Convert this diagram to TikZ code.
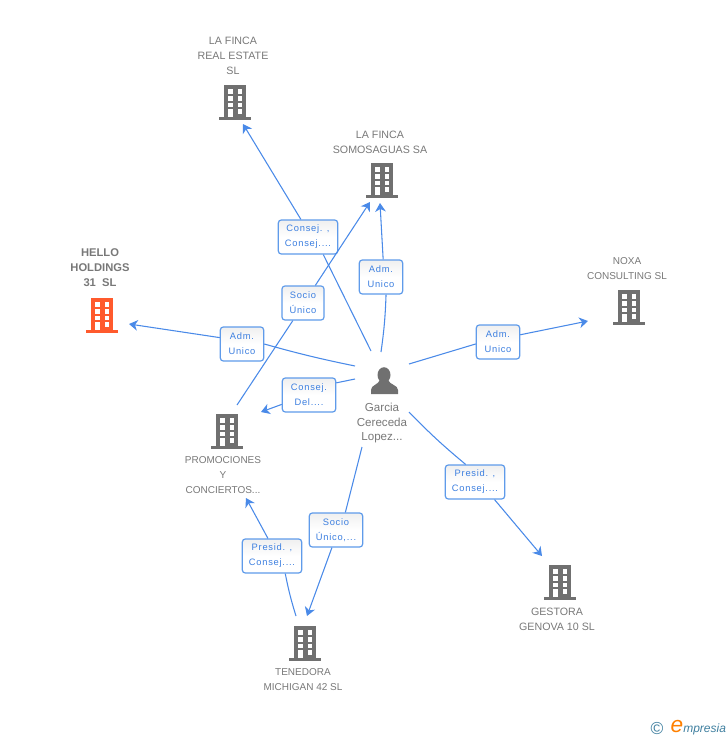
\documentclass[tikz,border=0pt]{standalone}
\usepackage{fontspec}
\setmainfont{Liberation Sans}
\newfontfamily\boxfont[LetterSpace=8]{Liberation Sans}
\usetikzlibrary{arrows.meta}
\definecolor{linkblue}{HTML}{4A8AE8}
\definecolor{boxblue}{HTML}{5F9BEA}
\definecolor{boxtext}{HTML}{3C7FE0}
\definecolor{icongray}{HTML}{707070}
\definecolor{hellored}{HTML}{FF5A2D}
\definecolor{labelgray}{HTML}{787878}
\definecolor{logoblue}{HTML}{3F7F9F}
\tikzset{
    link/.style={linkblue,line width=0.8pt},
    arrowlink/.style={link,-{Stealth[length=6.5pt,width=8pt,inset=2pt]}},
    rolebox/.style={draw=boxblue,line width=0.9pt,rounded corners=2.2pt,top color=black!6,bottom color=white,middle color=white,
        text=boxtext,font=\boxfont\fontsize{7}{11.2}\selectfont,align=center,inner sep=0pt},
    firmlabel/.style={text=labelgray,font=\fontsize{8}{11.2}\selectfont,align=center,inner sep=0pt},
    narrowlabel/.style={firmlabel,font=\fontsize{7.5}{11.2}\selectfont},
    pics/building/.style={code={
        \fill[#1] (-11,-17) rectangle (11,16);
        \fill[#1] (-16,15) rectangle (16,17.5);
        \foreach \row in {-13,-6,0.5} {
            \fill[white] (-7,\row) rectangle +(4.5,4.5);
            \fill[white] (2.5,\row) rectangle +(4.5,4.5);
        }
        \fill[white] (-7,7) rectangle +(4.5,8);
        \fill[white] (2.5,7) rectangle +(4.5,4.5);
    }}
}
\begin{document}
\begin{tikzpicture}[x=0.75pt,y=-0.75pt]
    \useasboundingbox (0,0) rectangle (728,740);
    % firms
    \pic at (235,102) {building=icongray};
    \pic at (382,180) {building=icongray};
    \pic at (629,307) {building=icongray};
    \pic at (102,315) {building=hellored};
    \pic at (227,431) {building=icongray};
    \pic at (560,582) {building=icongray};
    \pic at (305,643) {building=icongray};
    \node[firmlabel] (realestate) at (233,56) {LA FINCA\\REAL ESTATE\\SL};
    \node[firmlabel] (somosaguas) at (380,142) {LA FINCA\\SOMOSAGUAS SA};
    \node[narrowlabel] (noxa) at (627,269) {NOXA\\CONSULTING SL};
    \node[firmlabel,font=\bfseries\fontsize{8.4}{11.2}\selectfont] (hello) at (100,268) {HELLO\\HOLDINGS\\31\ \ SL};
    \node[narrowlabel] (promociones) at (223,475) {PROMOCIONES\\Y\\CONCIERTOS...};
    \node[firmlabel] (gestora) at (557,619) {GESTORA\\GENOVA 10 SL};
    \node[narrowlabel] (tenedora) at (303,680) {TENEDORA\\MICHIGAN 42 SL};
    % person
    \fill[icongray] (384,375) ellipse (6.5 and 7.8);
    \fill[icongray] (371,394) -- (371,390) .. controls (371,385) and (378,385) .. (380,380) -- (388,380) .. controls (390,385) and (398,385) .. (398,390) -- (398,394) -- cycle;
    \node[firmlabel,font=\fontsize{8.7}{11.2}\selectfont] (garcia) at (382,423) {Garcia\\Cereceda\\Lopez...};
    % boxes
    \node[rolebox,minimum width=44.5pt,minimum height=25.5pt] (consejA) at (308,237) {Consej. ,\\Consej....};
    \node[rolebox,minimum width=31.5pt,minimum height=25.5pt] (socioA) at (303,303) {Socio\\Único};
    \node[rolebox,minimum width=32.5pt,minimum height=25.5pt] (admA) at (381,277) {Adm.\\Unico};
    \node[rolebox,minimum width=32.5pt,minimum height=25.5pt] (admB) at (242,344) {Adm.\\Unico};
    \node[rolebox,minimum width=40pt,minimum height=25.5pt] (consejB) at (309,395) {Consej.\\Del....};
    \node[rolebox,minimum width=32.5pt,minimum height=25.5pt] (admC) at (498,342) {Adm.\\Unico};
    \node[rolebox,minimum width=44.5pt,minimum height=25.5pt] (presidA) at (475,482) {Presid. ,\\Consej....};
    \node[rolebox,minimum width=40pt,minimum height=25.5pt] (socioB) at (336,530) {Socio\\Único,...};
    \node[rolebox,minimum width=44.5pt,minimum height=25.5pt] (presidB) at (272,556) {Presid. ,\\Consej....};
    % free ends
    \coordinate (fromA) at (371,351);
    \coordinate (toA) at (243,124);
    \coordinate (fromB) at (237,405);
    \coordinate (toB) at (370,202);
    \coordinate (fromC) at (381,352);
    \coordinate (toC) at (380,203);
    \coordinate (fromD) at (355,366);
    \coordinate (toD) at (129,324);
    \coordinate (fromE) at (355,379);
    \coordinate (toE) at (261,412);
    \coordinate (fromF) at (409,364);
    \coordinate (toF) at (588,321);
    \coordinate (fromG) at (409,412);
    \coordinate (toG) at (542,556);
    \coordinate (fromH) at (362,447);
    \coordinate (toH) at (307,616);
    \coordinate (fromJ) at (296,616);
    \coordinate (toJ) at (246,498);
    % connectors
    \draw[link] (fromA) -- (consejA.-49);
    \draw[arrowlink] (consejA.112) -- (toA);
    \draw[link] (fromB) -- (socioA.240);
    \draw[arrowlink] (socioA.55) -- (toB);
    \draw[link] (fromC) to[bend right=3] (admA.-74);
    \draw[arrowlink] (admA.83) -- (toC);
    \draw[link] (fromD) to[bend left=2] (admB.0);
    \draw[arrowlink] (admB.164) -- (toD);
    \draw[link] (fromE) -- (consejB.24);
    \draw[arrowlink] (consejB.199) -- (toE);
    \draw[link] (fromF) -- (admC.185);
    \draw[arrowlink] (admC.18) -- (toF);
    \draw[link] (fromG) to[bend right=3] (presidA.118);
    \draw[arrowlink] (presidA.-42) -- (toG);
    \draw[link] (fromH) -- (socioB.62);
    \draw[arrowlink] (socioB.-103) -- (toH);
    \draw[link] (fromJ) to[bend left=3] (presidB.-53);
    \draw[arrowlink] (presidB.103) -- (toJ);
    % logo
    \node[inner sep=0pt,text=logoblue,font=\fontsize{13}{13}\selectfont] (copyr) at (657,729) {©};
    \node[inner sep=0pt,text=orange,font=\itshape\fontsize{17}{17}\selectfont] (logoe) at (677,727) {e};
    \node[inner sep=0pt,anchor=west,text=logoblue,font=\itshape\fontsize{9}{10}\selectfont] (logotext) at (683,729) {mpresia};
\end{tikzpicture}
\end{document}
